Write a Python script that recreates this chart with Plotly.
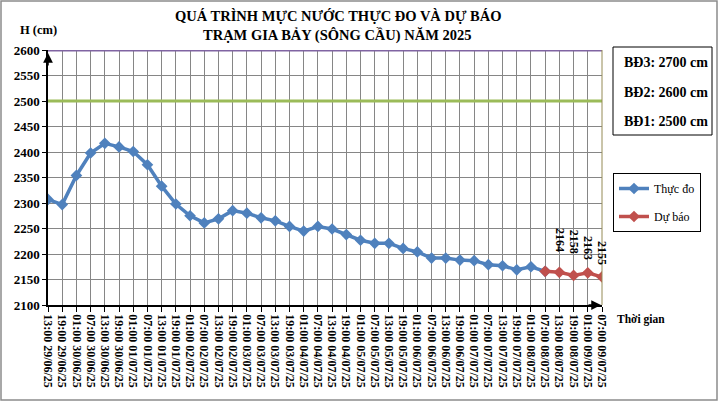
import plotly.graph_objects as go

# ---- data ----
time_labels = [
    "13:00 29/06/25", "19:00 29/06/25", "01:00 30/06/25", "07:00 30/06/25",
    "13:00 30/06/25", "19:00 30/06/25", "01:00 01/07/25", "07:00 01/07/25",
    "13:00 01/07/25", "19:00 01/07/25", "01:00 02/07/25", "07:00 02/07/25",
    "13:00 02/07/25", "19:00 02/07/25", "01:00 03/07/25", "07:00 03/07/25",
    "13:00 03/07/25", "19:00 03/07/25", "01:00 04/07/25", "07:00 04/07/25",
    "13:00 04/07/25", "19:00 04/07/25", "01:00 05/07/25", "07:00 05/07/25",
    "13:00 05/07/25", "19:00 05/07/25", "01:00 06/07/25", "07:00 06/07/25",
    "13:00 06/07/25", "19:00 06/07/25", "01:00 07/07/25", "07:00 07/07/25",
    "13:00 07/07/25", "19:00 07/07/25", "01:00 08/07/25", "07:00 08/07/25",
    "13:00 08/07/25", "19:00 08/07/25", "01:00 09/07/25", "07:00 09/07/25",
]
observed = [
    2307, 2297, 2354, 2398, 2417, 2410, 2401, 2375, 2333, 2298,
    2275, 2261, 2269, 2285, 2280, 2271, 2265, 2254, 2245, 2254,
    2249, 2238, 2227, 2221, 2221, 2211, 2204, 2192, 2192, 2188,
    2187, 2179, 2177, 2169, 2175, 2166,
]
forecast_start = 35
forecast = [2166, 2164, 2158, 2163, 2155]
forecast_label_values = [2164, 2158, 2163, 2155]
bd_levels = [2600, 2500]
bd_texts = ["BĐ3: 2700 cm", "BĐ2: 2600 cm", "BĐ1: 2500 cm"]
y_ticks = list(range(2100, 2601, 50))

# ---- styling ----
SERIF = "Liberation Serif, Times New Roman, serif"
BLUE = "#4F81BD"
RED = "#C0504D"
PURPLE = "#8064A2"
GREEN = "#9BBB59"
GRID = "#868686"
label_shifts = [32, 34, 25, 24]

L, R, T, B = 48, 602, 50, 305
W, H = 719, 402
pw, ph = R - L, B - T


def px(x):
    return (x - L) / pw


def py(y):
    return (B - y) / ph


idx_obs = list(range(len(observed)))
idx_fc = list(range(forecast_start, forecast_start + len(forecast)))
n = len(time_labels)

fig = go.Figure()

# BĐ lines
for lvl, col in zip(bd_levels, [PURPLE, GREEN]):
    fig.add_trace(go.Scatter(x=[0, n - 1], y=[lvl, lvl], mode="lines",
                             line=dict(color=col, width=3), showlegend=False,
                             hoverinfo="skip"))

fig.add_trace(go.Scatter(x=idx_obs, y=observed, mode="lines+markers", name="Thực đo",
                         legendgroup="a",
                         line=dict(color=BLUE, width=3.5),
                         marker=dict(symbol="diamond", size=9, color=BLUE)))
fig.add_trace(go.Scatter(x=idx_fc, y=forecast, mode="lines+markers", name="Dự báo",
                         legendgroup="b",
                         line=dict(color=RED, width=3.5),
                         marker=dict(symbol="diamond", size=9, color=RED)))

annotations = []
for i, (v, s) in enumerate(zip(forecast_label_values, label_shifts)):
    annotations.append(dict(x=forecast_start + 1 + i, y=v, xref="x", yref="y",
                            text=str(v), showarrow=False, textangle=90, yshift=s,
                            xanchor="center", yanchor="middle",
                            font=dict(family=SERIF, size=12, color="black", weight="bold")))


def txt(x, y, text, size, bold=True):
    f = dict(family=SERIF, size=size, color="black")
    if bold:
        f["weight"] = "bold"
    return dict(x=px(x), y=py(y), xref="paper", yref="paper", text=text,
                showarrow=False, xanchor="center", yanchor="middle", font=f)


annotations.append(txt(338, 16, "QUÁ TRÌNH MỰC NƯỚC THỰC ĐO VÀ DỰ BÁO", 14.5))
annotations.append(txt(337, 36, "TRẠM GIA BẢY (SÔNG CẦU) NĂM 2025", 14.5))
annotations.append(txt(38, 30, "H (cm)", 12.5))
annotations.append(txt(641, 319, "Thời gian", 11.5))
for t, yy in zip(bd_texts, [62, 92, 121]):
    annotations.append(txt(666, yy, t, 14))

# axis arrows
annotations.append(dict(x=0, y=py(53), xref="paper", yref="paper", text="", showarrow=True,
                        ax=0, ay=14, arrowhead=2, arrowsize=1.3, arrowwidth=1.5, arrowcolor="black"))
annotations.append(dict(x=px(601), y=0, xref="paper", yref="paper", text="", showarrow=True,
                        ax=-14, ay=0, arrowhead=2, arrowsize=1.3, arrowwidth=1.5, arrowcolor="black"))

shapes = [
    dict(type="rect", xref="paper", yref="paper", x0=px(1), x1=px(717), y0=py(1), y1=py(400),
         line=dict(color="#8C8C8C", width=1.5)),
    dict(type="rect", xref="paper", yref="paper", x0=px(613), x1=px(712), y0=py(47), y1=py(135),
         line=dict(color="black", width=1)),
    dict(type="line", xref="paper", yref="paper", x0=1, x1=1, y0=0, y1=1,
         line=dict(color="#948A54", width=1)),
]

fig.update_layout(
    width=W, height=H,
    margin=dict(l=L, r=W - R, t=T, b=H - B, autoexpand=False),
    paper_bgcolor="white", plot_bgcolor="white",
    showlegend=True,
    legend=dict(x=px(613), y=py(173), xanchor="left", yanchor="top",
                bordercolor="black", borderwidth=1, bgcolor="white",
                font=dict(family=SERIF, size=12, color="black"),
                tracegroupgap=9, itemwidth=30),
    annotations=annotations,
    shapes=shapes,
    xaxis=dict(range=[0, n - 1], tickmode="array", tickvals=list(range(n)), ticktext=time_labels,
               tickangle=90, showgrid=True, gridcolor=GRID, gridwidth=1,
               showline=True, linecolor="black", linewidth=1.5,
               ticks="outside", ticklen=5, tickcolor="black",
               tickfont=dict(family=SERIF, size=12, color="black", weight="bold"), zeroline=False),
    yaxis=dict(range=[2100, 2600], tickmode="array", tickvals=y_ticks,
               showgrid=True, gridcolor=GRID, gridwidth=1,
               showline=True, linecolor="black", linewidth=1.5,
               ticks="outside", ticklen=4, tickcolor="black",
               tickfont=dict(family=SERIF, size=13, color="black", weight="bold"), zeroline=False),
)

fig.write_html("out.html", config={"displayModeBar": False},
               post_script="document.body.style.margin='0';document.body.style.overflow='hidden';")
